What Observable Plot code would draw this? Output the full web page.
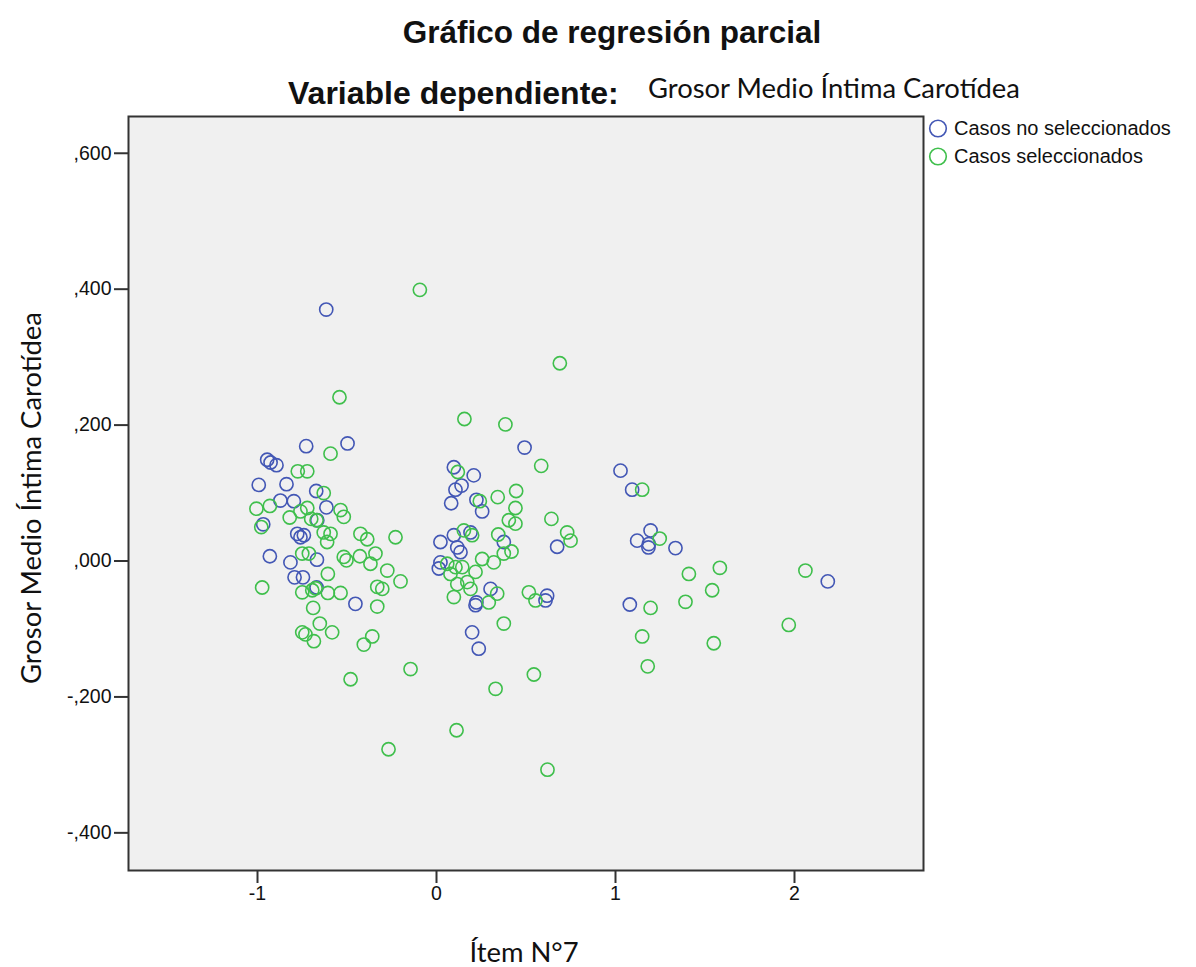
<!DOCTYPE html>
<html><head><meta charset="utf-8">
<script src="https://cdn.jsdelivr.net/npm/d3@7"></script>
<script src="https://cdn.jsdelivr.net/npm/@observablehq/plot@0.6"></script>
<style>
body{margin:0;background:#fff}
#wrap{position:relative;width:1196px;height:967px;overflow:hidden;background:#fff}
#chart{position:absolute;left:0;top:0}
.t{position:absolute;white-space:nowrap;color:#111;line-height:1}
.lg{position:absolute;left:927px;font-family:'Liberation Sans',Arial,sans-serif;font-size:20px;color:#111;display:flex;align-items:center;white-space:nowrap;height:24px}
.lg svg{margin-right:6px;flex:none}
</style></head><body>
<div id="wrap">
<div id="chart"></div>
<div class="t" style="left:0;width:1224px;text-align:center;top:14px;font:bold 31.5px 'Liberation Sans',Arial,sans-serif">Gráfico de regresión parcial</div>
<div class="t" style="left:288px;top:75px;font:bold 32px 'Liberation Sans',Arial,sans-serif">Variable dependiente:</div>
<div class="t" style="left:648px;top:71px;font:27.4px Lato,'Noto Sans',sans-serif">Grosor Medio Íntima Carotídea</div>
<div class="t" style="left:30px;top:498px;transform:translate(-50%,-50%) rotate(-90deg);font:27.4px Lato,'Noto Sans',sans-serif">Grosor Medio Íntima Carotídea</div>
<div class="t" style="left:524px;top:951px;transform:translate(-50%,-50%);font:27.4px Lato,'Noto Sans',sans-serif">Ítem N°7</div>
<div class="lg" id="lg1" style="top:116px"></div>
<div class="lg" id="lg2" style="top:144px"></div>
</div>
<script>
const seriesNames = ["Casos no seleccionados", "Casos seleccionados"];
const seriesColors = ["#4357b5", "#3fbf4c"];

const blueX = [-0.616,-0.728,-0.497,-0.946,-0.927,-0.894,-0.993,-0.838,-0.672,-0.872,-0.797,-0.615,-0.968,-0.778,-0.760,-0.741,-0.666,-0.931,-0.816,-0.668,-0.793,-0.746,-0.670,-0.453,
  0.492,0.097,0.208,0.140,0.106,0.082,0.223,0.255,0.674,0.376,0.097,0.022,0.190,0.116,0.134,0.022,0.013,0.302,0.223,0.218,0.618,0.609,0.199,0.236,
  1.028,1.093,1.196,1.121,1.186,1.184,1.335,1.080,2.186];
const blueY = [0.370,0.169,0.173,0.149,0.145,0.141,0.112,0.113,0.103,0.089,0.088,0.079,0.054,0.040,0.035,0.038,0.060,0.007,-0.002,0.002,-0.024,-0.024,-0.039,-0.063,
  0.167,0.138,0.126,0.111,0.105,0.085,0.090,0.073,0.021,0.028,0.038,0.028,0.042,0.020,0.013,-0.002,-0.011,-0.041,-0.061,-0.065,-0.051,-0.058,-0.105,-0.129,
  0.133,0.105,0.045,0.030,0.025,0.020,0.019,-0.064,-0.030];

const greenX = [-0.093,0.689,-0.542,0.156,0.385,-0.592,0.585,0.119,-0.775,-0.722,1.149,-0.630,-0.931,-1.006,-0.722,-0.760,-0.536,-0.518,-0.820,-0.700,-0.670,-0.979,-0.425,-0.387,-0.229,-0.630,-0.592,-0.611,-0.750,-0.713,-0.518,-0.503,-0.428,-0.341,-0.369,-0.275,-0.607,-0.974,-0.750,-0.694,-0.676,-0.607,-0.536,-0.331,-0.303,-0.331,-0.201,-0.689,-0.652,-0.583,-0.750,-0.732,-0.685,-0.359,-0.406,-0.480,-0.145,-0.268,
  0.445,0.342,0.242,0.441,0.404,0.441,0.642,0.730,0.749,0.345,0.376,0.419,0.255,0.320,0.153,0.199,0.060,0.106,0.078,0.144,0.218,0.116,0.172,0.190,0.097,0.339,0.292,0.516,0.553,0.376,0.544,0.330,0.112,0.620,
  1.247,1.410,1.583,1.540,1.391,1.196,1.149,1.549,1.180,2.061,1.968];
const greenY = [0.399,0.291,0.241,0.209,0.201,0.158,0.140,0.131,0.132,0.132,0.105,0.100,0.081,0.077,0.078,0.073,0.075,0.065,0.064,0.062,0.060,0.050,0.040,0.032,0.035,0.042,0.040,0.028,0.011,0.011,0.006,0.001,0.007,0.011,-0.004,-0.014,-0.019,-0.039,-0.046,-0.043,-0.040,-0.047,-0.047,-0.038,-0.041,-0.067,-0.030,-0.069,-0.092,-0.105,-0.105,-0.108,-0.118,-0.111,-0.123,-0.174,-0.159,-0.277,
  0.103,0.094,0.088,0.078,0.060,0.055,0.062,0.042,0.030,0.039,0.011,0.014,0.003,-0.002,0.045,0.038,-0.004,-0.009,-0.019,-0.009,-0.016,-0.034,-0.031,-0.041,-0.053,-0.048,-0.061,-0.046,-0.058,-0.092,-0.167,-0.188,-0.249,-0.307,
  0.033,-0.019,-0.010,-0.043,-0.060,-0.069,-0.111,-0.121,-0.155,-0.014,-0.094];

const xTicks = [-1, 0, 1, 2];
const yTicks = [-0.4, -0.2, 0, 0.2, 0.4, 0.6];

const blue = blueX.map((x, i) => ({x, y: blueY[i], s: seriesNames[0]}));
const green = greenX.map((x, i) => ({x, y: greenY[i], s: seriesNames[1]}));

const fmtY = d => (d < 0 ? "-" : "") + d3.format(".3f")(Math.abs(d)).replace(/^0\./, ",");
const font = "'Liberation Sans', Arial, sans-serif";

const plot = Plot.plot({
  width: 1196, height: 967,
  marginLeft: 128, marginRight: 273, marginTop: 116, marginBottom: 97,
  style: {fontFamily: font, fontSize: "19.5px", color: "#111", background: "transparent", overflow: "visible"},
  x: {domain: [-1.7207, 2.7207]},
  y: {domain: [-0.4554, 0.6541]},
  color: {domain: seriesNames, range: seriesColors},
  marks: [
    Plot.frame({fill: "#f0f0f0", stroke: null}),
    Plot.dot(blue, {x: "x", y: "y", stroke: "s", r: 6.6, strokeWidth: 1.6, fill: "none"}),
    Plot.dot(green, {x: "x", y: "y", stroke: "s", r: 6.6, strokeWidth: 1.6, fill: "none"}),
    Plot.frame({stroke: "#333", strokeWidth: 2}),
    Plot.axisX({ticks: xTicks, tickFormat: d => String(d), tickSize: 13, tickPadding: 3, label: null, stroke: "#333", strokeWidth: 2, fontSize: 19.5}),
    Plot.axisY({ticks: yTicks, tickFormat: fmtY, tickSize: 14, tickPadding: 3, label: null, stroke: "#333", strokeWidth: 2, fontSize: 19.5})
  ]
});
d3.select(plot).selectAll("text").style("font-size", "19.5px").style("font-family", font).attr("fill", "#111");
document.getElementById("chart").appendChild(plot);

function legendItem(id, color, text) {
  const el = document.getElementById(id);
  el.innerHTML = `<svg width="21" height="21"><circle cx="11" cy="10.5" r="8.3" fill="none" stroke="${color}" stroke-width="1.6"/></svg><span>${text}</span>`;
}
legendItem("lg1", seriesColors[0], seriesNames[0]);
legendItem("lg2", seriesColors[1], seriesNames[1]);
</script>
</body></html>
